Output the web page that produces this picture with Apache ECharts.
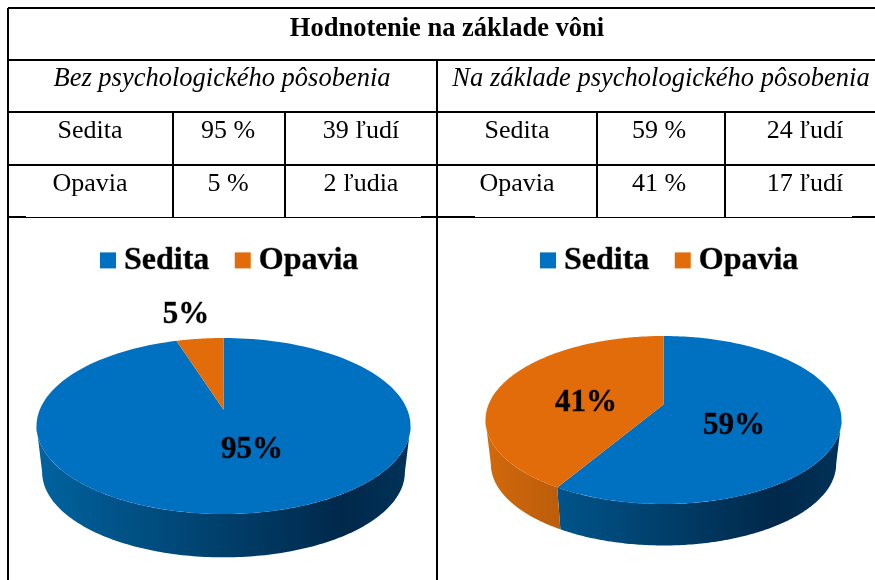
<!doctype html>
<html lang="sk">
<head>
    <meta charset="UTF-8">
    <title>Hodnotenie na základe vôni</title>
    <script src="https://cdn.jsdelivr.net/npm/echarts@6/dist/echarts.min.js"></script>
    <style>
        html, body { margin: 0; padding: 0; background: #fff; }
        #main { width: 875px; height: 580px; }
    </style>
</head>
<body>

<div id="main"></div>
<script type="text/javascript">

    // values
    var categories = ['Sedita', 'Opavia'];
    var percentWithout = [95, 5];
    var percentWith = [59, 41];
    var countWithout = [39, 2];
    var countWith = [24, 17];
    var peopleWithout = ['39 ľudí', '2 ľudia'];
    var peopleWith = ['24 ľudí', '17 ľudí'];

    var tableTitle = 'Hodnotenie na základe vôni';
    var headWithout = 'Bez psychologického pôsobenia';
    var headWith = 'Na základe psychologického pôsobenia';

    var SERIF = '"Liberation Serif", serif';
    var BLUE = '#0070c0';
    var ORANGE = '#e36c0a';

    // pie geometry, the top face is seen in perspective so the hub sits above the ellipse centre
    var pieLayouts = [
        { counts: countWithout, percents: percentWithout, cx: 223.5, cy: 426, rx: 187, ry: 88, depth: 46, labels: [[252, 450], [186, 315]] },
        { counts: countWith, percents: percentWith, cx: 663.5, cy: 420, rx: 178, ry: 84, depth: 44, labels: [[734, 426], [586, 403]] }
    ];
    var HUB_SHIFT = -0.185;
    var BOTTOM_SCALE = 0.97;
    var FRONT_START = Math.acos(HUB_SHIFT); // angle where the rim is widest, the wall is only seen past it

    function project(pie, angle, scale, dy) {
        var u = Math.sin(angle);
        var v = -Math.cos(angle);
        var w = 1 + HUB_SHIFT * v;
        var d = Math.sqrt(1 - HUB_SHIFT * HUB_SHIFT);
        return [
            pie.cx + pie.rx * scale * d * u / w,
            pie.cy + dy + pie.ry * scale * (v + HUB_SHIFT) / w
        ];
    }

    function arcPoints(pie, from, to, scale, dy) {
        var pts = [];
        for (var i = 0; i <= 160; i++) {
            pts.push(project(pie, from + (to - from) * i / 160, scale, dy));
        }
        return pts;
    }

    function wallFill(pie, stops) {
        return new echarts.graphic.LinearGradient(pie.cx - pie.rx, 0, pie.cx + pie.rx, 0, stops, true);
    }

    var wallStops = [
        [{ offset: 0, color: '#00639f' }, { offset: 0.82, color: '#00284a' }, { offset: 1, color: '#003358' }],
        [{ offset: 0, color: '#d2690c' }, { offset: 0.82, color: '#7a3a05' }, { offset: 1, color: '#8a4406' }]
    ];

    function sliceRenderer(pie, index) {
        return function (params, api) {
            var total = pie.counts.reduce(function (a, b) { return a + b; }, 0);
            var before = pie.counts.slice(0, index).reduce(function (a, b) { return a + b; }, 0);
            var value = api.value(0);
            var start = before / total * Math.PI * 2;
            var end = (before + value) / total * Math.PI * 2;
            var hub = [pie.cx, pie.cy + pie.ry * HUB_SHIFT];
            var children = [
                {
                    type: 'polygon',
                    z2: 2,
                    shape: { points: [hub].concat(arcPoints(pie, start, end, 1, 0)) },
                    style: { fill: index === 0 ? BLUE : ORANGE }
                },
                {
                    type: 'text',
                    z2: 3,
                    style: {
                        text: api.value(1) + '%',
                        x: pie.labels[index][0],
                        y: pie.labels[index][1],
                        align: 'center',
                        verticalAlign: 'middle',
                        fontFamily: SERIF,
                        fontWeight: 'bold',
                        fontSize: 31,
                        fill: '#000',
                        stroke: 'rgba(0,0,0,0.45)',
                        lineWidth: 0.8
                    }
                }
            ];
            var wallFrom = Math.max(start, FRONT_START);
            var wallTo = Math.min(end, Math.PI * 2 - FRONT_START);
            if (wallTo > wallFrom) {
                children.push({
                    type: 'polygon',
                    z2: 1,
                    shape: {
                        points: arcPoints(pie, wallFrom, wallTo, 1, 0)
                            .concat(arcPoints(pie, wallFrom, wallTo, BOTTOM_SCALE, pie.depth).reverse())
                    },
                    style: { fill: wallFill(pie, wallStops[index]) }
                });
            }
            return { type: 'group', children: children };
        };
    }

    var series = [];
    pieLayouts.forEach(function (pie) {
        categories.forEach(function (name, index) {
            series.push({
                type: 'custom',
                name: name,
                coordinateSystem: 'none',
                itemStyle: { color: index === 0 ? BLUE : ORANGE },
                data: [[pie.counts[index], pie.percents[index]]],
                renderItem: sliceRenderer(pie, index),
                silent: true
            });
        });
    });

    function legendAt(left) {
        return {
            data: categories,
            left: left,
            top: 244,
            padding: 0,
            icon: 'rect',
            itemWidth: 16,
            itemHeight: 16,
            itemGap: 25,
            selectedMode: false,
            textStyle: {
                fontFamily: SERIF,
                fontWeight: 'bold',
                fontSize: 32,
                color: '#000',
                padding: [7, 0, 0, 3],
                textBorderColor: 'rgba(0,0,0,0.45)',
                textBorderWidth: 0.8
            }
        };
    }

    // table rules
    var ruleH = [[8, 875, 8], [8, 875, 60], [8, 875, 112], [8, 875, 165]];
    var ruleV = [[8, 8, 580], [437, 60, 580], [173, 112, 217], [285, 112, 217], [597, 112, 217], [725, 112, 217]];
    var ruleBottomThick = [[8, 26], [421, 475], [852, 875]];
    var ruleBottomThin = [[26, 421], [475, 852]];

    var graphic = [];

    function addLine(x1, y1, x2, y2, width) {
        graphic.push({
            type: 'line',
            silent: true,
            shape: { x1: x1, y1: y1, x2: x2, y2: y2 },
            style: { stroke: '#000', lineWidth: width }
        });
    }

    function addText(text, x, y, size, weight, italic) {
        graphic.push({
            type: 'text',
            silent: true,
            x: x,
            y: y,
            style: {
                text: text,
                fill: '#000',
                align: 'center',
                verticalAlign: 'middle',
                fontFamily: SERIF,
                fontSize: size,
                fontWeight: weight,
                fontStyle: italic ? 'italic' : 'normal'
            }
        });
    }

    ruleH.forEach(function (r) { addLine(r[0], r[2], r[1], r[2], 2); });
    ruleV.forEach(function (r) { addLine(r[0], r[1], r[0], r[2], 2); });
    ruleBottomThick.forEach(function (r) { addLine(r[0], 217, r[1], 217, 2); });
    ruleBottomThin.forEach(function (r) { addLine(r[0], 217.5, r[1], 217.5, 1); });

    addText(tableTitle, 447, 29, 26.5, 'bold', false);
    addText(headWithout, 222, 79, 26.5, 'normal', true);
    addText(headWith, 661, 79, 26.5, 'normal', true);

    var rowY = [131, 184];
    categories.forEach(function (name, i) {
        addText(name, 90, rowY[i], 26, 'normal', false);
        addText(percentWithout[i] + ' %', 228, rowY[i], 26, 'normal', false);
        addText(peopleWithout[i], 361, rowY[i], 26, 'normal', false);
        addText(name, 517, rowY[i], 26, 'normal', false);
        addText(percentWith[i] + ' %', 659, rowY[i], 26, 'normal', false);
        addText(peopleWith[i], 805, rowY[i], 26, 'normal', false);
    });

    var chart = echarts.init(document.getElementById('main'));
    chart.setOption({
        backgroundColor: '#fff',
        animation: false,
        legend: [legendAt(100), legendAt(540)],
        series: series,
        graphic: { elements: graphic }
    });

</script>
</body>
</html>
